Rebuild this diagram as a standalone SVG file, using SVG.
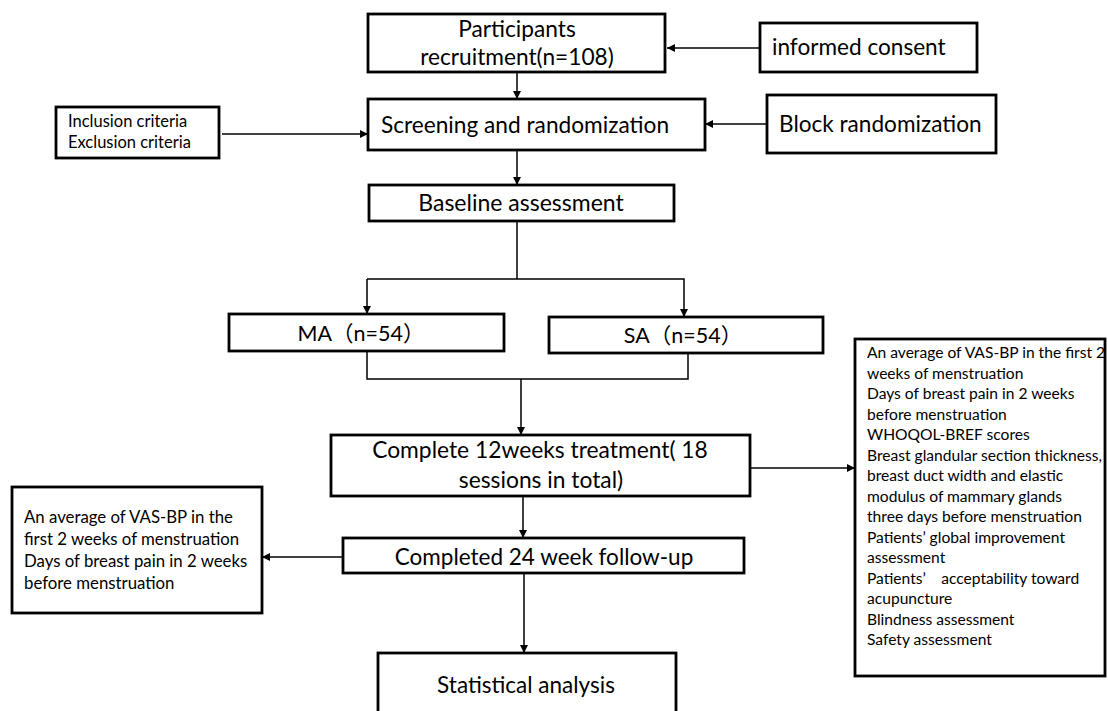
<svg xmlns="http://www.w3.org/2000/svg" width="1108" height="711" viewBox="0 0 1108 711">
<style>
.box{fill:#fff;stroke:#000;stroke-width:2.8}
.c{fill:none;stroke:#000;stroke-width:1.5}
text{font-family:Lato,"Noto Sans CJK SC",sans-serif;fill:#000}
.m{text-anchor:middle}
</style>
<defs>
<marker id="ah" viewBox="0 0 10 10" refX="10" refY="5" markerWidth="8" markerHeight="8" markerUnits="userSpaceOnUse" orient="auto">
<path d="M0,0L10,5L0,10z" fill="#000"/>
</marker>
</defs>
<rect width="1108" height="711" fill="#fff"/>
<g id="connectors">
<path class="c" d="M760,48H667" marker-end="url(#ah)"/>
<path class="c" d="M517,72V99" marker-end="url(#ah)"/>
<path class="c" d="M222,134H368" marker-end="url(#ah)"/>
<path class="c" d="M767,124H705" marker-end="url(#ah)"/>
<path class="c" d="M517,150V185" marker-end="url(#ah)"/>
<path class="c" d="M517,221V279"/>
<path class="c" d="M367,279V314" marker-end="url(#ah)"/>
<path class="c" d="M367,279H684V317" marker-end="url(#ah)"/>
<path class="c" d="M367,351V379H688V353"/>
<path class="c" d="M521,379V435" marker-end="url(#ah)"/>
<path class="c" d="M523,496V538" marker-end="url(#ah)"/>
<path class="c" d="M750,468H855" marker-end="url(#ah)"/>
<path class="c" d="M343,557H262" marker-end="url(#ah)"/>
<path class="c" d="M524,573V653" marker-end="url(#ah)"/>
</g>
<g id="recruit">
<rect class="box" x="368" y="14" width="297" height="58"/>
<text class="m" x="517" y="37" font-size="22.7">Participants</text>
<text class="m" x="517" y="65" font-size="22.7">recruitment(n=108)</text>
</g>
<g id="consent">
<rect class="box" x="760" y="23" width="217" height="49"/>
<text x="772" y="55" font-size="22.6">informed consent</text>
</g>
<g id="criteria">
<rect class="box" x="56" y="107" width="163" height="51"/>
<text x="68" y="127" font-size="16.5">Inclusion criteria</text>
<text x="68" y="148" font-size="16.5">Exclusion criteria</text>
</g>
<g id="screening">
<rect class="box" x="368" y="99" width="337" height="51"/>
<text class="m" x="525" y="133" font-size="22.7">Screening and randomization</text>
</g>
<g id="block">
<rect class="box" x="767" y="95" width="229" height="58"/>
<text x="779" y="132" font-size="22.6">Block randomization</text>
</g>
<g id="baseline">
<rect class="box" x="369" y="185" width="305" height="36"/>
<text class="m" x="521" y="211" font-size="23">Baseline assessment</text>
</g>
<g id="ma">
<rect class="box" x="229" y="314" width="275" height="37"/>
<text class="m" x="361" y="341" font-size="21.5">MA（n=54）</text>
</g>
<g id="sa">
<rect class="box" x="549" y="317" width="274" height="36"/>
<text class="m" x="683" y="343" font-size="21.5">SA（n=54）</text>
</g>
<g id="treatment">
<rect class="box" x="331" y="435" width="419" height="61"/>
<text class="m" x="540" y="458" font-size="22.8">Complete 12weeks treatment( 18</text>
<text class="m" x="541" y="488" font-size="22.8">sessions in total)</text>
</g>
<g id="outcomes12">
<rect class="box" x="855" y="339" width="250" height="337"/>
<g font-size="15.6">
<text x="867" y="358">An average of VAS-BP in the first 2</text>
<text x="867" y="378.5">weeks of menstruation</text>
<text x="867" y="399">Days of breast pain in 2 weeks</text>
<text x="867" y="419.5">before menstruation</text>
<text x="867" y="440">WHOQOL-BREF scores</text>
<text x="867" y="460.5">Breast glandular section thickness,</text>
<text x="867" y="481">breast duct width and elastic</text>
<text x="867" y="501.5">modulus of mammary glands</text>
<text x="867" y="522">three days before menstruation</text>
<text x="867" y="542.5">Patients’ global improvement</text>
<text x="867" y="563">assessment</text>
<text x="867" y="583.5">Patients’　acceptability toward</text>
<text x="867" y="604">acupuncture</text>
<text x="867" y="624.5">Blindness assessment</text>
<text x="867" y="645">Safety assessment</text>
</g>
</g>
<g id="followup">
<rect class="box" x="343" y="538" width="401" height="35"/>
<text class="m" x="544" y="565" font-size="22.5">Completed 24 week follow-up</text>
</g>
<g id="outcomes24">
<rect class="box" x="12" y="487" width="250" height="126"/>
<g font-size="16.8">
<text x="24" y="523">An average of VAS-BP in the</text>
<text x="24" y="545">first 2 weeks of menstruation</text>
<text x="24" y="567">Days of breast pain in 2 weeks</text>
<text x="24" y="589">before menstruation</text>
</g>
</g>
<g id="analysis">
<rect class="box" x="378" y="653" width="298" height="70"/>
<text class="m" x="526" y="693" font-size="22.5">Statistical analysis</text>
</g>
</svg>
